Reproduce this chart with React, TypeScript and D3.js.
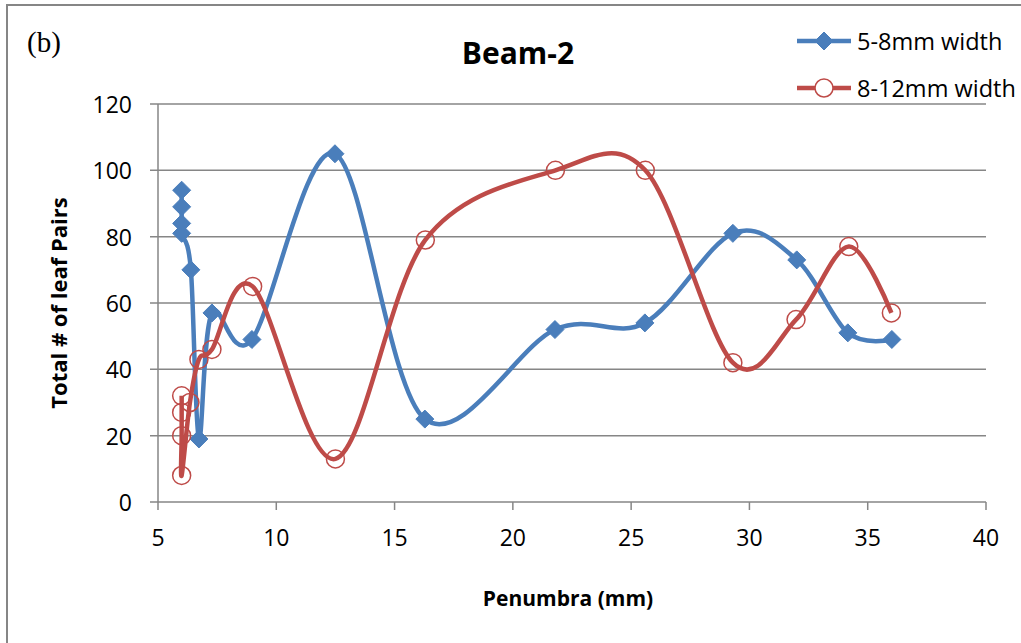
import React from "react";
import * as d3 from "d3";

const blueX = [6.0, 6.0, 6.0, 6.0, 6.39, 6.73, 7.28, 8.97, 12.48, 16.28, 21.78, 25.58, 29.3, 32.0, 34.16, 36.02];
const blueY = [94, 89, 84, 81, 70, 19, 57, 49, 105, 25, 52, 54, 81, 73, 51, 49];
const redX = [6.0, 6.0, 6.0, 6.0, 6.35, 6.73, 7.28, 9.0, 12.5, 16.3, 21.8, 25.6, 29.3, 31.97, 34.2, 36.0];
const redY = [32, 27, 20, 8, 30, 43, 46, 65, 13, 79, 100, 100, 42, 55, 77, 57];
const xTicks = [5, 10, 15, 20, 25, 30, 35, 40];
const yTicks = [0, 20, 40, 60, 80, 100, 120];
const seriesNames = ["5-8mm width", "8-12mm width"];

const W = 1021;
const H = 643;
const BLUE = "#4a7ebb";
const RED = "#be4b48";
const GRID = "#868686";
const FONT = "'Open Sans', 'Liberation Sans', sans-serif";

export default function App() {
  const x = d3.scaleLinear().domain([5, 40]).range([158, 986]);
  const y = d3.scaleLinear().domain([0, 120]).range([502, 104]);
  const line = d3
    .line<[number, number]>()
    .x((d) => x(d[0]))
    .y((d) => y(d[1]))
    .curve(d3.curveCardinal.tension(0));
  const blue: [number, number][] = blueX.map((v, i) => [v, blueY[i]]);
  const red: [number, number][] = redX.map((v, i) => [v, redY[i]]);
  const diamond = (cx: number, cy: number, r: number) =>
    `M${cx},${cy - r}L${cx + r},${cy}L${cx},${cy + r}L${cx - r},${cy}Z`;

  return (
    <svg
      width={W}
      height={H}
      style={{ position: "absolute", left: 0, top: 0, background: "#fff" }}
    >
      <rect x={7} y={5} width={1030} height={660} fill="#fff" stroke={GRID} strokeWidth={2} />
      {yTicks.map((t) => (
        <g key={"y" + t}>
          <line x1={150} x2={986} y1={y(t)} y2={y(t)} stroke={GRID} strokeWidth={1.5} />
          <text
            x={132}
            y={y(t)}
            textAnchor="end"
            dominantBaseline="central"
            fontFamily={FONT}
            fontSize={23}
            fill="#000"
          >
            {t}
          </text>
        </g>
      ))}
      <line x1={x(5)} x2={x(5)} y1={y(120)} y2={y(0)} stroke={GRID} strokeWidth={1.5} />
      {xTicks.map((t) => (
        <g key={"x" + t}>
          <line x1={x(t)} x2={x(t)} y1={502} y2={510} stroke={GRID} strokeWidth={1.5} />
          <text
            x={x(t)}
            y={537}
            textAnchor="middle"
            dominantBaseline="central"
            fontFamily={FONT}
            fontSize={23}
            fill="#000"
          >
            {t}
          </text>
        </g>
      ))}
      <path d={line(blue) || ""} fill="none" stroke={BLUE} strokeWidth={4.5} />
      {blue.map((d, i) => (
        <path key={"b" + i} d={diamond(x(d[0]), y(d[1]), 9)} fill={BLUE} stroke={BLUE} strokeWidth={1} />
      ))}
      <path d={line(red) || ""} fill="none" stroke={RED} strokeWidth={4.5} />
      {red.map((d, i) => (
        <circle key={"r" + i} cx={x(d[0])} cy={y(d[1])} r={9} fill="none" stroke={RED} strokeWidth={1.5} />
      ))}
      <text x={518} y={52} textAnchor="middle" dominantBaseline="central" fontFamily={FONT} fontWeight="bold" fontSize={30}>
        Beam-2
      </text>
      <text x={27} y={42} dominantBaseline="central" fontFamily="'Liberation Serif', 'DejaVu Serif', serif" fontSize={29}>
        (b)
      </text>
      <text
        transform="translate(58,303) rotate(-90)"
        textAnchor="middle"
        dominantBaseline="central"
        fontFamily={FONT}
        fontWeight="bold"
        fontSize={22}
      >
        Total # of leaf Pairs
      </text>
      <text x={568} y={598} textAnchor="middle" dominantBaseline="central" fontFamily={FONT} fontWeight="bold" fontSize={21}>
        Penumbra (mm)
      </text>
      <g>
        <line x1={797} x2={851} y1={41} y2={41} stroke={BLUE} strokeWidth={4.5} />
        <path d={diamond(824, 41, 9)} fill={BLUE} stroke={BLUE} />
        <text x={857} y={41} dominantBaseline="central" fontFamily={FONT} fontSize={23.5}>
          {seriesNames[0]}
        </text>
        <line x1={797} x2={851} y1={88} y2={88} stroke={RED} strokeWidth={4.5} />
        <circle cx={824} cy={88} r={9} fill="#fff" stroke={RED} strokeWidth={1.5} />
        <text x={857} y={88} dominantBaseline="central" fontFamily={FONT} fontSize={23.5}>
          {seriesNames[1]}
        </text>
      </g>
    </svg>
  );
}
